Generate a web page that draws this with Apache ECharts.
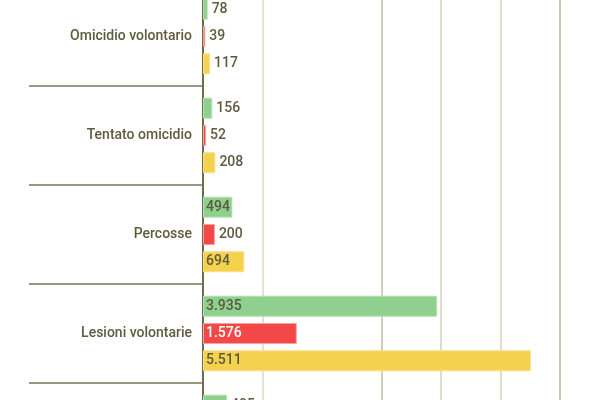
<!DOCTYPE html>
<html>
<head>
<meta charset="utf-8">
<script src="https://cdn.jsdelivr.net/npm/echarts@6/dist/echarts.min.js"></script>
<style>
html,body{margin:0;padding:0;background:#fff;overflow:hidden;width:600px;height:400px;}
#c{position:absolute;left:0;top:-13px;width:600px;height:520px;}
</style>
</head>
<body>
<div id="c"></div>
<script>
var categories = ['Omicidio volontario', 'Tentato omicidio', 'Percosse', 'Lesioni volontarie', ''];
var greenValues = [78, 156, 494, 3935, 405];
var redValues = [39, 52, 200, 1576, null];
var yellowValues = [117, 208, 694, 5511, null];
var gridValues = [1000, 3000, 4000, 5000, 6000];
var gridColors = ['#dcd7c2', '#c4bc9f', '#d6d0b8', '#e2ddc9', '#d2cab0'];

function fmt(v) {
  return String(v).replace(/\B(?=(\d{3})+(?!\d))/g, '.');
}
function mkData(vals, insideColor) {
  return vals.map(function (v) {
    var inside = v != null && v >= 450;
    return {
      value: v,
      label: {
        position: inside ? 'insideLeft' : 'right',
        distance: inside ? 3 : 4,
        color: inside ? insideColor : '#5e5a3e'
      }
    };
  });
}
var labelBase = {
  show: true,
  fontFamily: 'Roboto',
  fontSize: 14,
  fontWeight: 500,
  formatter: function (p) { return fmt(p.value); }
};
var chart = echarts.init(document.getElementById('c'), null, {renderer: 'canvas'});
chart.setOption({
  animation: false,
  grid: {left: 203, top: 0, width: 357, height: 495},
  xAxis: {
    type: 'value', min: 0, max: 6000,
    axisLine: {show: false}, axisTick: {show: false},
    axisLabel: {show: false}, splitLine: {show: false}
  },
  yAxis: {
    type: 'category', data: categories, inverse: true,
    axisLine: {show: true, lineStyle: {color: '#6e6a4c', width: 2}},
    axisTick: {show: true, length: 174, lineStyle: {color: '#7a7458', width: 1.5}},
    axisLabel: {margin: 11, color: '#5f5b3f', fontFamily: 'Roboto', fontSize: 14, fontWeight: 500}
  },
  series: [
    {
      type: 'bar', data: mkData(greenValues, '#5a5a42'), barWidth: 21, barGap: '30%',
      itemStyle: {color: '#8fd08f', borderColor: '#b4e0b1', borderWidth: 1},
      label: labelBase, z: 3,
      markLine: {
        silent: true, symbol: 'none', label: {show: false}, z: 1,
        data: gridValues.map(function (g, i) {
          return {xAxis: g, lineStyle: {color: gridColors[i], width: i >= 3 ? 2 : 1.5, type: 'solid'}};
        })
      }
    },
    {
      type: 'bar', data: mkData(redValues, '#ffffff'), barWidth: 21, barGap: '30%',
      itemStyle: {color: '#f24848', borderColor: '#f7a0a0', borderWidth: 1},
      label: labelBase, z: 3
    },
    {
      type: 'bar', data: mkData(yellowValues, '#5e5a3e'), barWidth: 21, barGap: '30%',
      itemStyle: {color: '#f5d24d', borderColor: '#f8e08a', borderWidth: 1},
      label: labelBase, z: 3
    }
  ]
});
</script>
</body>
</html>
